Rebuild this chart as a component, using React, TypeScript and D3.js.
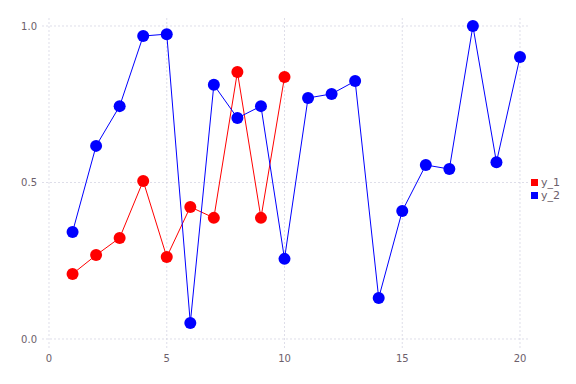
import React from "react";
import * as d3 from "d3";

const xs1 = [1, 2, 3, 4, 5, 6, 7, 8, 9, 10];
const y1 = [0.208, 0.268, 0.323, 0.505, 0.262, 0.422, 0.387, 0.853, 0.387, 0.837];
const xs2 = [1, 2, 3, 4, 5, 6, 7, 8, 9, 10, 11, 12, 13, 14, 15, 16, 17, 18, 19, 20];
const y2 = [0.342, 0.617, 0.744, 0.968, 0.974, 0.051, 0.812, 0.706, 0.744, 0.256, 0.77, 0.783, 0.824, 0.131, 0.409, 0.556, 0.543, 1.0, 0.565, 0.901];
const xTicks = [0, 5, 10, 15, 20];
const yTicks = [0.0, 0.5, 1.0];
const seriesNames = ["y_1", "y_2"];
const colors = ["#ff0000", "#0000ff"];

export default function App() {
  const W = 576, H = 384;
  const x = d3.scaleLinear().domain([0, 20]).range([49, 520]);
  const y = d3.scaleLinear().domain([0, 1]).range([339, 26]);
  const line = d3.line<[number, number]>().x(d => x(d[0])).y(d => y(d[1]));
  const s1 = xs1.map((v, i) => [v, y1[i]] as [number, number]);
  const s2 = xs2.map((v, i) => [v, y2[i]] as [number, number]);
  const gridColor = "#d0d0e0";
  const textColor = "#6c606b";
  const font = "'DejaVu Sans', sans-serif";
  return (
    <svg width={W} height={H} style={{ position: "absolute", left: 0, top: 0, background: "#fff" }}>
      {xTicks.map(t => (
        <line key={"vx" + t} x1={x(t)} x2={x(t)} y1={18} y2={348} stroke={gridColor} strokeWidth={0.7} strokeDasharray="2,2" />
      ))}
      {yTicks.map(t => (
        <line key={"hy" + t} x1={42} x2={528} y1={y(t)} y2={y(t)} stroke={gridColor} strokeWidth={0.7} strokeDasharray="2,2" />
      ))}
      {xTicks.map(t => (
        <text key={"tx" + t} x={x(t)} y={362} textAnchor="middle" fontSize={10} fill={textColor} fontFamily={font}>{t}</text>
      ))}
      {yTicks.map(t => (
        <text key={"ty" + t} x={37} y={y(t) + 3.5} textAnchor="end" fontSize={10} fill={textColor} fontFamily={font}>{t.toFixed(1)}</text>
      ))}
      <path d={line(s1) || ""} fill="none" stroke={colors[0]} strokeWidth={1} />
      <path d={line(s2) || ""} fill="none" stroke={colors[1]} strokeWidth={1} />
      {s1.map((d, i) => (
        <circle key={"c1" + i} cx={x(d[0])} cy={y(d[1])} r={6} fill={colors[0]} />
      ))}
      {s2.map((d, i) => (
        <circle key={"c2" + i} cx={x(d[0])} cy={y(d[1])} r={6} fill={colors[1]} />
      ))}
      {seriesNames.map((n, i) => (
        <g key={n}>
          <rect x={531} y={179 + i * 13} width={7} height={7} fill={colors[i]} />
          <text x={541} y={186 + i * 13} fontSize={11} fill={textColor} fontFamily={font}>{n}</text>
        </g>
      ))}
    </svg>
  );
}
